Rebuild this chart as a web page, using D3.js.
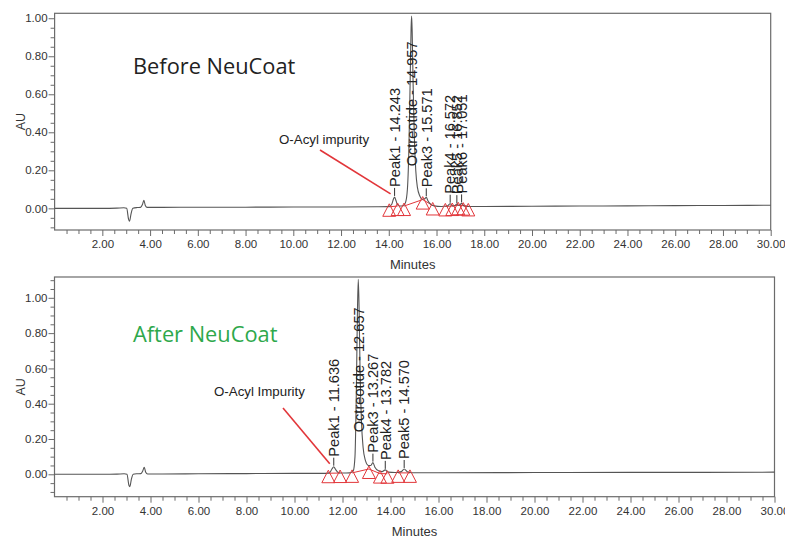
<!DOCTYPE html>
<html><head><meta charset="utf-8">
<script src="https://cdn.jsdelivr.net/npm/d3@7"></script>
<style>
html,body{margin:0;padding:0;background:#fff;}
svg{display:block;}
text{font-family:"Liberation Sans",Arial,sans-serif;}
</style></head>
<body>
<svg id="chart" width="785" height="538"></svg>
<script>
// ---------------- DATA ----------------
const xMajorTicks = [2,4,6,8,10,12,14,16,18,20,22,24,26,28,30];
const xTickLabels = ["2.00","4.00","6.00","8.00","10.00","12.00","14.00","16.00","18.00","20.00","22.00","24.00","26.00","28.00","30.00"];
const yMajorTicks = [0,0.2,0.4,0.6,0.8,1.0];
const yTickLabels = ["0.00","0.20","0.40","0.60","0.80","1.00"];

// Before NeuCoat trace (minutes, AU)
const beforeTrace = [
 [0,0.000],[1,0.000],[2,0.000],[2.6,0.001],[2.9,0.003],[3.02,0.0],[3.1,-0.058],[3.14,-0.068],[3.2,-0.03],[3.28,0.0],
 [3.45,0.004],[3.6,0.005],[3.68,0.02],[3.74,0.042],[3.8,0.015],[3.88,0.005],[4.5,0.005],[6,0.006],[8,0.006],[10,0.007],
 [12,0.007],[13.5,0.008],[14.0,0.009],[14.12,0.02],[14.2,0.05],[14.243,0.06],[14.29,0.045],[14.36,0.02],[14.45,0.012],
 [14.6,0.013],[14.7,0.03],[14.78,0.1],[14.84,0.3],[14.9,0.7],[14.935,0.95],[14.957,1.012],[14.98,0.93],[15.02,0.65],
 [15.07,0.38],[15.13,0.2],[15.2,0.11],[15.3,0.065],[15.4,0.048],[15.5,0.05],[15.571,0.058],[15.64,0.04],[15.75,0.022],
 [15.9,0.013],[16.2,0.01],[16.45,0.012],[16.572,0.024],[16.68,0.013],[16.76,0.014],[16.852,0.022],[16.95,0.015],
 [17.051,0.026],[17.15,0.013],[17.4,0.01],[18,0.01],[20,0.011],[22,0.012],[24,0.013],[26,0.014],[28,0.015],[30,0.016]
];
const beforePeakNames = ["Peak1","Octreotide","Peak3","Peak4","Peak5","Peak6"];
const beforePeakTimes = [14.243,14.957,15.571,16.572,16.852,17.051];
const beforePeakHeights = [0.06,1.012,0.058,0.024,0.022,0.026];
const beforeMarkerTimes = [14.02,14.37,14.64,15.42,15.84,16.37,16.66,16.91,17.12,17.33];
const beforeMarkerValues = [0.008,0.012,0.012,0.046,0.015,0.01,0.012,0.016,0.014,0.01];
const beforeMarkerGroups = [[0,1],[2,3,4],[5,6,7,8,9]];

// After NeuCoat trace
const afterTrace = [
 [0,0],[2,0],[2.6,0.001],[2.9,0.003],[3.02,0],[3.1,-0.062],[3.14,-0.07],[3.2,-0.03],[3.28,0],[3.45,0.003],[3.6,0.004],
 [3.68,0.02],[3.74,0.04],[3.8,0.012],[3.88,0.002],[4.5,0.002],[6,0.003],[8,0.004],[10,0.005],[11.2,0.005],[11.45,0.008],
 [11.56,0.03],[11.636,0.043],[11.7,0.03],[11.82,0.01],[12.0,0.007],[12.3,0.008],[12.45,0.02],[12.52,0.1],[12.58,0.5],
 [12.62,0.9],[12.657,1.105],[12.69,0.95],[12.73,0.6],[12.79,0.3],[12.86,0.15],[12.95,0.08],[13.08,0.05],[13.18,0.05],
 [13.267,0.066],[13.35,0.04],[13.5,0.02],[13.65,0.015],[13.782,0.025],[13.9,0.012],[14.2,0.01],[14.45,0.015],[14.57,0.03],
 [14.7,0.015],[14.9,0.009],[16,0.009],[20,0.01],[24,0.011],[27,0.011],[30,0.012]
];
const afterPeakNames = ["Peak1","Octreotide","Peak3","Peak4","Peak5"];
const afterPeakTimes = [11.636,12.657,13.267,13.782,14.570];
const afterPeakHeights = [0.043,1.105,0.066,0.025,0.03];
const afterMarkerTimes = [11.41,11.9,12.4,13.1,13.56,13.87,14.32,14.81];
const afterMarkerValues = [0.006,0.007,0.008,0.03,0.004,0.003,0.008,0.008];
const afterMarkerGroups = [[0,1],[2,3,4,5],[6,7]];

// ---------------- DRAW ----------------
const svg = d3.select("#chart");
svg.append("rect").attr("width",785).attr("height",538).attr("fill","#fff");

const axisColor = "#6b6b6b", textColor = "#333", traceColor = "#555", red = "#e2363a";

function drawPanel(cfg){
  const g = svg.append("g");
  const x = d3.scaleLinear().domain([0,30]).range([cfg.left,cfg.right]);
  const y = d3.scaleLinear().domain(cfg.yDomain).range([cfg.bottom,cfg.top]);

  g.append("rect").attr("x",cfg.left).attr("y",cfg.top)
   .attr("width",cfg.right-cfg.left).attr("height",cfg.bottom-cfg.top)
   .attr("fill","none").attr("stroke",axisColor).attr("stroke-width",1.2);

  const xMinor = d3.range(0.5,30,0.5).filter(v=>Math.abs(v/2-Math.round(v/2))>1e-6);
  const xAxisMinor = d3.axisBottom(x).tickValues(xMinor).tickSize(4).tickFormat("");
  const xAxisMajor = d3.axisBottom(x).tickValues(xMajorTicks).tickSize(6)
     .tickFormat((d,i)=>xTickLabels[i]).tickPadding(4);
  [xAxisMinor,xAxisMajor].forEach(ax=>{
    const a = g.append("g").attr("transform",`translate(0,${cfg.bottom})`).call(ax);
    a.select(".domain").remove();
    a.selectAll("line").attr("stroke",axisColor);
    a.selectAll("text").attr("fill",textColor).attr("font-size",11.5);
  });
  const yMinor = d3.range(-0.1,cfg.yDomain[1],0.05).map(v=>+v.toFixed(2))
     .filter(v=>Math.abs(v*5-Math.round(v*5))>1e-6);
  const yAxisMinor = d3.axisLeft(y).tickValues(yMinor).tickSize(4).tickFormat("");
  const yAxisMajor = d3.axisLeft(y).tickValues(yMajorTicks).tickSize(6)
     .tickFormat((d,i)=>yTickLabels[i]).tickPadding(1);
  [yAxisMinor,yAxisMajor].forEach(ax=>{
    const a = g.append("g").attr("transform",`translate(${cfg.left},0)`).call(ax);
    a.select(".domain").remove();
    a.selectAll("line").attr("stroke",axisColor);
    a.selectAll("text").attr("fill",textColor).attr("font-size",11.5);
  });

  g.append("text").attr("x",(cfg.left+cfg.right)/2).attr("y",cfg.bottom+39)
   .attr("text-anchor","middle").attr("font-size",13).attr("fill",textColor).text("Minutes");
  g.append("text").attr("transform",`translate(25,${(cfg.top+cfg.bottom)/2}) rotate(-90)`)
   .attr("text-anchor","middle").attr("font-size",12.5).attr("fill",textColor).text("AU");

  cfg.groups.forEach(grp=>{
    const pts = grp.map(i=>[x(cfg.mTimes[i]),y(cfg.mValues[i])]);
    g.append("path").attr("d",d3.line()(pts)).attr("fill","none")
     .attr("stroke",red).attr("stroke-width",1);
  });

  g.append("path").datum(cfg.trace)
   .attr("d",d3.line().x(d=>x(d[0])).y(d=>y(d[1])).curve(d3.curveMonotoneX))
   .attr("fill","none").attr("stroke",traceColor).attr("stroke-width",1.1);

  cfg.mTimes.forEach((t,i)=>{
    const cx = x(t), cy = y(cfg.mValues[i]);
    g.append("path").attr("d",`M${cx},${cy-3}L${cx+6.5},${cy+9.5}L${cx-6.5},${cy+9.5}Z`)
     .attr("fill","none").attr("stroke",red).attr("stroke-width",1);
  });

  cfg.names.forEach((n,i)=>{
    const px = x(cfg.times[i]), h = cfg.heights[i];
    const big = h > 0.3;
    const ly = big ? y(0)-42 : y(h)-10;
    if(!big){
      g.append("line").attr("x1",px).attr("x2",px).attr("y1",y(h)-1).attr("y2",ly+1)
       .attr("stroke","#333").attr("stroke-width",1);
    }
    g.append("text").attr("transform",`translate(${px},${ly}) rotate(-90)`)
     .attr("dy","0.36em").attr("font-size",14.6).attr("fill","#222")
     .text(`${n} - ${cfg.times[i].toFixed(3)}`);
  });

  g.append("text").attr("x",cfg.impX).attr("y",cfg.impY).attr("font-size",13.3)
   .attr("fill","#222").text(cfg.impText);
  const p1x = x(cfg.times[0]), p1y = y(cfg.heights[0]);
  g.append("line").attr("x1",cfg.impLineX).attr("y1",cfg.impLineY)
   .attr("x2",p1x-4).attr("y2",p1y-3).attr("stroke",red).attr("stroke-width",1.6);

  g.append("text").attr("x",133).attr("y",cfg.headY)
   .style("font-family","'Open Sans',sans-serif").attr("font-size",21.8)
   .attr("fill",cfg.headColor).text(cfg.heading);
}

drawPanel({left:54.6,right:770.7,top:13.3,bottom:230,yDomain:[-0.114,1.026],
  trace:beforeTrace,names:beforePeakNames,times:beforePeakTimes,heights:beforePeakHeights,
  mTimes:beforeMarkerTimes,mValues:beforeMarkerValues,groups:beforeMarkerGroups,
  impText:"O-Acyl impurity",impX:279,impY:144,impLineX:320,impLineY:150,
  heading:"Before NeuCoat",headY:73.5,headColor:"#222"});

drawPanel({left:54.5,right:774.5,top:277,bottom:496.7,yDomain:[-0.127,1.118],
  trace:afterTrace,names:afterPeakNames,times:afterPeakTimes,heights:afterPeakHeights,
  mTimes:afterMarkerTimes,mValues:afterMarkerValues,groups:afterMarkerGroups,
  impText:"O-Acyl Impurity",impX:214,impY:396,impLineX:283,impLineY:408,
  heading:"After NeuCoat",headY:341.7,headColor:"#2ea84b"});
</script>
</body></html>
